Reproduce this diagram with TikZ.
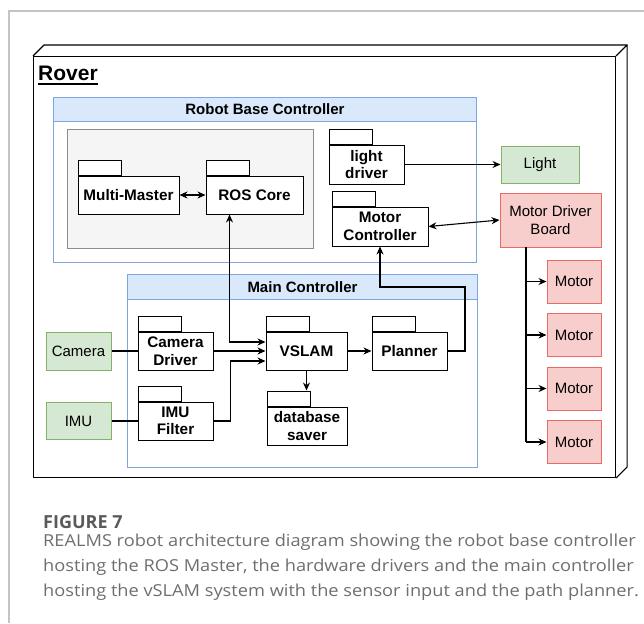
\documentclass[tikz,border=0pt]{standalone}
\usepackage{graphicx}
\usepackage{fontspec}
\setmainfont{Liberation Sans}
\newfontfamily\capfont{Open Sans}
\usetikzlibrary{arrows.meta}

\definecolor{hdrfill}{HTML}{DAE8FC}
\definecolor{hdrdraw}{HTML}{7EA6E0}
\definecolor{grayfill}{HTML}{F5F5F5}
\definecolor{graydraw}{HTML}{8C8C8C}
\definecolor{grnfill}{HTML}{D5E8D4}
\definecolor{grndraw}{HTML}{82B366}
\definecolor{redfill}{HTML}{F8CECC}
\definecolor{reddraw}{HTML}{EA6B66}
\definecolor{capdark}{HTML}{58595B}
\definecolor{captext}{HTML}{6D6E71}
\definecolor{framegray}{HTML}{C4C4C4}

\tikzset{
  pkgbox/.style={draw=black, fill=white, line width=1pt, inner sep=0pt, align=center,
    font=\fontsize{15.3}{17.5}\selectfont\bfseries},
  pkgtab/.style={draw=black, fill=white, line width=1pt, minimum width=43pt,
    minimum height=15pt, inner sep=0pt, anchor=south west},
  device/.style={line width=1pt, inner sep=0pt, align=center, font=\fontsize{15}{18}\selectfont},
  sensor/.style={device, draw=grndraw, fill=grnfill},
  hardware/.style={device, draw=reddraw, fill=redfill},
  container/.style={draw=hdrdraw, fill=white, line width=1pt, inner sep=0pt, anchor=north west},
  header/.style={draw=hdrdraw, fill=hdrfill, line width=1pt, inner sep=0pt, anchor=north west,
    minimum height=24pt, font=\fontsize{15}{17}\selectfont\bfseries},
  wire/.style={draw=black, line width=1.1pt},
  arrow/.style={wire, -{Stealth[length=8pt,width=7pt]}},
  dblarrow/.style={wire, {Stealth[length=8pt,width=7pt]}-{Stealth[length=8pt,width=7pt]}},
  cube/.style={draw=black, fill=white, line width=1.1pt, line join=round},
  capline/.style={anchor=base west, inner sep=0pt, text=captext, font=\capfont\fontsize{16.5}{20}\selectfont},
}

% package symbol: body node #1 centred at (#2,#3), size #4 x #5, label #6, tab node #1tab
\newcommand\pkgnode[6]{%
  \node[pkgbox, minimum width=#4pt, minimum height=#5pt] (#1) at (#2,#3) {#6};
  \node[pkgtab] (#1tab) at (#1.north west) {};
}
% caption text, slightly widened
\newcommand\capwide[1]{\scalebox{1.104}[1]{#1}}

\begin{document}
\begin{tikzpicture}[x=1pt, y=-1pt]
\useasboundingbox (0,0) rectangle (644,623);

% page frame
\draw[framegray, line width=1.1pt] (9,623) -- (9,11) -- (644,11);

% Rover enclosure (3D box)
\node[cube, minimum width=582pt, minimum height=421pt, anchor=north west] (rover) at (33,56) {};
\draw[cube] (rover.north west) -- ++(11,-11) -- ([shift={(11pt,11pt)}]rover.north east) -- (rover.north east);
\draw[cube] (rover.north east) -- ++(11,-11) -- ([shift={(11pt,11pt)}]rover.south east) -- (rover.south east);
\node[anchor=base west, inner sep=0pt, font=\fontsize{21}{24}\selectfont\bfseries] (roverlbl) at (38,81) {Rover};
\draw[line width=1.3pt] ([yshift=-3pt]roverlbl.base west) -- ([yshift=-3pt]roverlbl.base east);

% Robot Base Controller
\node[container, minimum width=423pt, minimum height=165pt] (rbc) at (53,97) {};
\node[header, minimum width=423pt] (rbchead) at (53,97) {Robot Base Controller};
\node[draw=graydraw, fill=grayfill, line width=1pt, inner sep=0pt, anchor=north west,
      minimum width=246pt, minimum height=119pt] (rosmaster) at (67,129) {};

% Main Controller
\node[container, minimum width=350pt, minimum height=193pt] (mc) at (127,274) {};
\node[header, minimum width=350pt, minimum height=25pt] (mchead) at (127,274) {Main Controller};

% packages
\pkgnode{mm}{128.5}{195}{101}{38}{Multi-Master}
\pkgnode{ros}{254.5}{195}{97}{38}{ROS Core}
\pkgnode{lightdrv}{366.5}{164.5}{75}{39}{light\\driver}
\pkgnode{motorctl}{380}{226.5}{96}{39}{Motor\\Controller}
\pkgnode{camdrv}{175.5}{351}{75}{38}{Camera\\Driver}
\pkgnode{imuf}{175.5}{421}{75}{38}{IMU\\Filter}
\pkgnode{vslam}{306.5}{351}{81}{38}{VSLAM}
\pkgnode{planner}{409.5}{351}{75}{38}{Planner}
\pkgnode{dbsaver}{307}{426}{80}{38}{database\\saver}

% hardware
\node[sensor, minimum width=78pt, minimum height=37pt] (light) at (540,164.5) {Light};
\node[hardware, minimum width=101pt, minimum height=54pt] (mdb) at (550.5,220) {Motor Driver\\Board};
\node[hardware, minimum width=54pt, minimum height=43pt] (m1) at (574,281.5) {Motor};
\node[hardware, minimum width=54pt, minimum height=43pt] (m2) at (574,335) {Motor};
\node[hardware, minimum width=54pt, minimum height=43pt] (m3) at (574,388.5) {Motor};
\node[hardware, minimum width=54pt, minimum height=43pt] (m4) at (574,442) {Motor};
\node[sensor, minimum width=65pt, minimum height=38pt] (cam) at (78.5,351) {Camera};
\node[sensor, minimum width=65pt, minimum height=37pt] (imu) at (78.5,421) {IMU};

% connectors
\draw[dblarrow] (mm.east) -- (ros.west);
\draw[dblarrow] ([yshift=9pt]vslam.west) -| ([xshift=24pt]ros.south west);
\draw[wire] (cam.east) -- (camdrv.west);
\draw[wire] (imu.east) -- (imuf.west);
\draw[arrow] (camdrv.east) -- (vslam.west);
\draw[arrow] (imuf.east) -- ++(17,0) |- ([yshift=-10pt]vslam.west);
\draw[arrow] (vslam.east) -- (planner.west);
\draw[arrow] (vslam.south) -- (vslam.south |- dbsavertab.north);
\coordinate (plbend) at (465,287);
\draw[arrow] (planner.east) -| (plbend) -| (motorctl.south);
\draw[arrow] (lightdrv.east) -- (light.west);
\draw[dblarrow] (motorctl.east) -- (mdb.west);
\coordinate (bus) at (526,247);
\draw[wire] (bus) -- (bus |- m4.west);
\foreach \m in {m1,m2,m3,m4}
  \draw[arrow] (bus |- \m.west) -- (\m.west);

% caption
\node[anchor=base west, inner sep=0pt, text=capdark, font=\capfont\bfseries\fontsize{18}{20}\selectfont] (figlbl) at (43,528) {FIGURE 7};
\node[capline] (cap1) at (43,546) {\capwide{REALMS robot architecture diagram showing the robot base controller}};
\node[capline] (cap2) at (43,571) {\capwide{hosting the ROS Master, the hardware drivers and the main controller}};
\node[capline] (cap3) at (43,596) {\capwide{hosting the vSLAM system with the sensor input and the path planner.}};
\end{tikzpicture}
\end{document}
